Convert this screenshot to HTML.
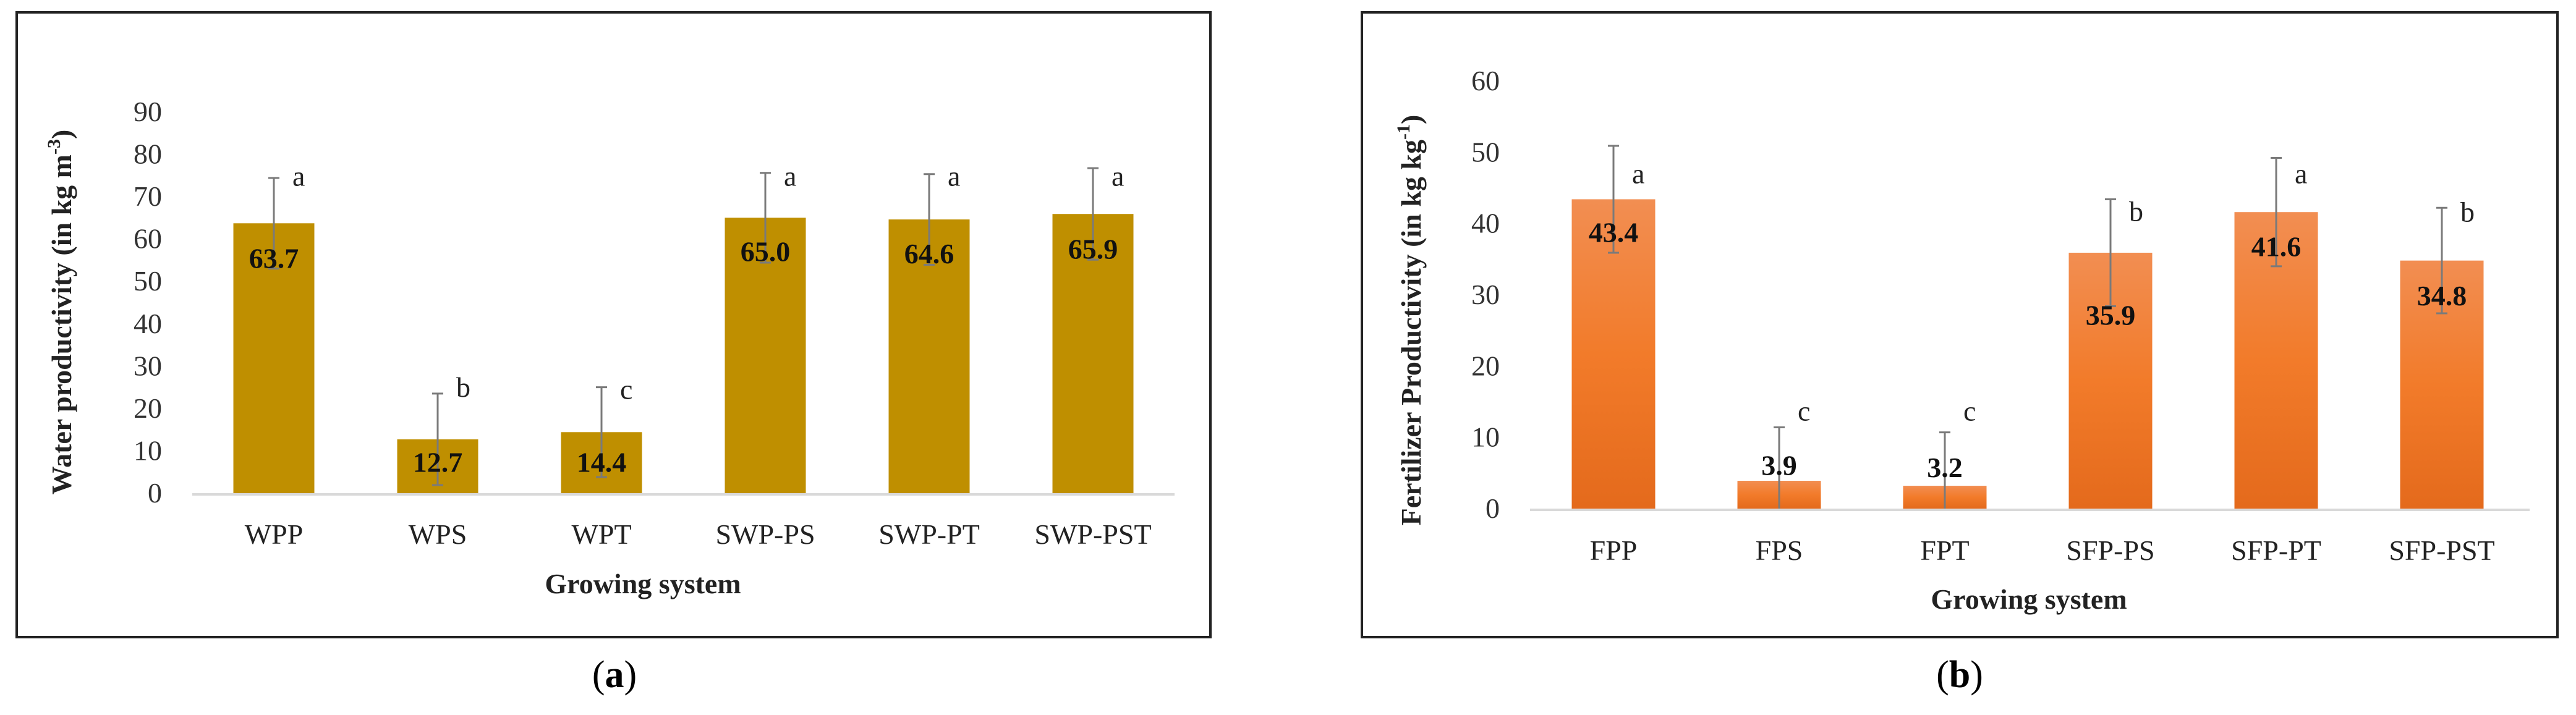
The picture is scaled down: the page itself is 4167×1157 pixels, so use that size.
<!DOCTYPE html>
<html><head><meta charset="utf-8">
<style>
html,body{margin:0;padding:0;background:#fff;}
svg{display:block;}
text{font-family:"Liberation Serif",serif;}
</style></head>
<body>
<svg id="fig" width="4167" height="1157" viewBox="0 0 4167 1157" xmlns="http://www.w3.org/2000/svg">
<defs>
<linearGradient id="og" x1="0" y1="0" x2="0" y2="1">
<stop offset="0" stop-color="#F28E52"/><stop offset="0.5" stop-color="#F27B2A"/><stop offset="1" stop-color="#E46A1C"/>
</linearGradient>
</defs>
<rect x="27" y="20" width="1931" height="1011" fill="none" stroke="#222" stroke-width="4"/>
<rect x="2203" y="20" width="1934" height="1011" fill="none" stroke="#222" stroke-width="4"/>
<text x="994" y="1112" font-size="62" text-anchor="middle">(<tspan font-weight="bold">a</tspan>)</text>
<text x="3170" y="1112" font-size="62" text-anchor="middle">(<tspan font-weight="bold">b</tspan>)</text>
<g id="ga"></g>
<g id="gb"></g>
</svg>
<script>
const catsA = ["WPP","WPS","WPT","SWP-PS","SWP-PT","SWP-PST"];
const valsA = [63.7,12.7,14.4,65.0,64.6,65.9];
const errA = [10.7,10.8,10.6,10.6,10.7,10.8];
const lettersA = ["a","b","c","a","a","a"];
const letterYA = [74.3,24.5,24.0,74.3,74.3,74.3];
const labelYA = [55.5,7.4,7.4,57.1,56.6,57.7];
const ticksA = [0,10,20,30,40,50,60,70,80,90];

const catsB = ["FPP","FPS","FPT","SFP-PS","SFP-PT","SFP-PST"];
const valsB = [43.4,3.9,3.2,35.9,41.6,34.8];
const errB = [7.5,7.5,7.5,7.5,7.6,7.4];
const lettersB = ["a","c","c","b","a","b"];
const letterYB = [46.7,13.4,13.4,41.4,46.7,41.3];
const labelYB = [38.8,6.1,5.8,27.2,36.8,29.9];
const ticksB = [0,10,20,30,40,50,60];

const NS="http://www.w3.org/2000/svg";
function mk(parent,tag,attrs,txt){const e=document.createElementNS(NS,tag);for(const k in attrs)e.setAttribute(k,attrs[k]);if(txt!==undefined)e.textContent=txt;parent.appendChild(e);return e;}

function draw(g,cfg){
  const y=v=>cfg.y0-(v/cfg.max)*(cfg.y0-cfg.yTop);
  const x=i=>cfg.x0+i*cfg.step;
  let e;
  cfg.ticks.forEach(t=>{
    e=mk(g,"text",{x:cfg.tickX,y:y(t)+15,"font-size":46,"text-anchor":"end",fill:"#333"},String(t));
    
    
  });
  cfg.cats.forEach((c,i)=>{
    const v=cfg.vals[i];
    e=mk(g,"rect",{x:x(i)-cfg.bw/2,y:y(v),width:cfg.bw,height:y(0)-y(v),fill:cfg.fill});
    
    
    const lowV=v-cfg.err[i];
    const clipped=lowV<0;
    const lo=y(Math.max(0,lowV)),hi=y(v+cfg.err[i]);
    let d=`M${x(i)} ${lo}V${hi}M${x(i)-9} ${hi}H${x(i)+9}`;
    if(!clipped) d+=`M${x(i)-9} ${lo}H${x(i)+9}`;
    e=mk(g,"path",{d:d,stroke:"#7a7a7a","stroke-width":3,fill:"none"});
    
    
    e=mk(g,"text",{x:x(i),y:y(cfg.labelY[i])+16,"font-size":46,"font-weight":"bold","text-anchor":"middle",fill:"#111"},v.toFixed(1));
    
    
    e=mk(g,"text",{x:x(i)+30,y:y(cfg.letterY[i])+12,"font-size":46,"text-anchor":"start",fill:"#222"},cfg.letters[i]);
    
    
    e=mk(g,"text",{x:x(i),y:cfg.catY,"font-size":46,"text-anchor":"middle",fill:"#222"},c);
    
    
  });
  e=mk(g,"line",{x1:cfg.axL,x2:cfg.axR,y1:y(0)+2,y2:y(0)+2,stroke:"#d9d9d9","stroke-width":4});
  
  
  e=mk(g,"text",{x:cfg.titleX,y:cfg.titleXY,"font-size":46,"font-weight":"bold","text-anchor":"middle",fill:"#222"},"Growing system");
  
  
  e=mk(g,"text",{x:0,y:0,"font-size":46,"font-weight":"bold","text-anchor":"middle",fill:"#222",transform:`translate(${cfg.ytX},${cfg.ytY}) rotate(-90)`});
  
  
  e.innerHTML=cfg.ytitle;
}
draw(document.getElementById("ga"),{cats:catsA,vals:valsA,err:errA,letters:lettersA,letterY:letterYA,labelY:labelYA,ticks:ticksA,
  max:90,y0:798,yTop:181,x0:443,step:265,bw:131,fill:"#BF8F00",tickX:262,catY:880,axL:311,axR:1900,titleX:1040,titleXY:960,ytX:115,ytY:505,
  ytitle:'Water productivity (in kg m<tspan font-size="30" dy="-18">-3</tspan><tspan dy="18">)</tspan>'});
draw(document.getElementById("gb"),{cats:catsB,vals:valsB,err:errB,letters:lettersB,letterY:letterYB,labelY:labelYB,ticks:ticksB,
  max:60,y0:823,yTop:131,x0:2610,step:268,bw:135,fill:"url(#og)",tickX:2426,catY:906,axL:2475,axR:4092,titleX:3282,titleXY:985,ytX:2298,ytY:518,
  ytitle:'Fertilizer Productivity (in kg kg<tspan font-size="30" dy="-18">-1</tspan><tspan dy="18">)</tspan>'});
</script>
</body></html>
